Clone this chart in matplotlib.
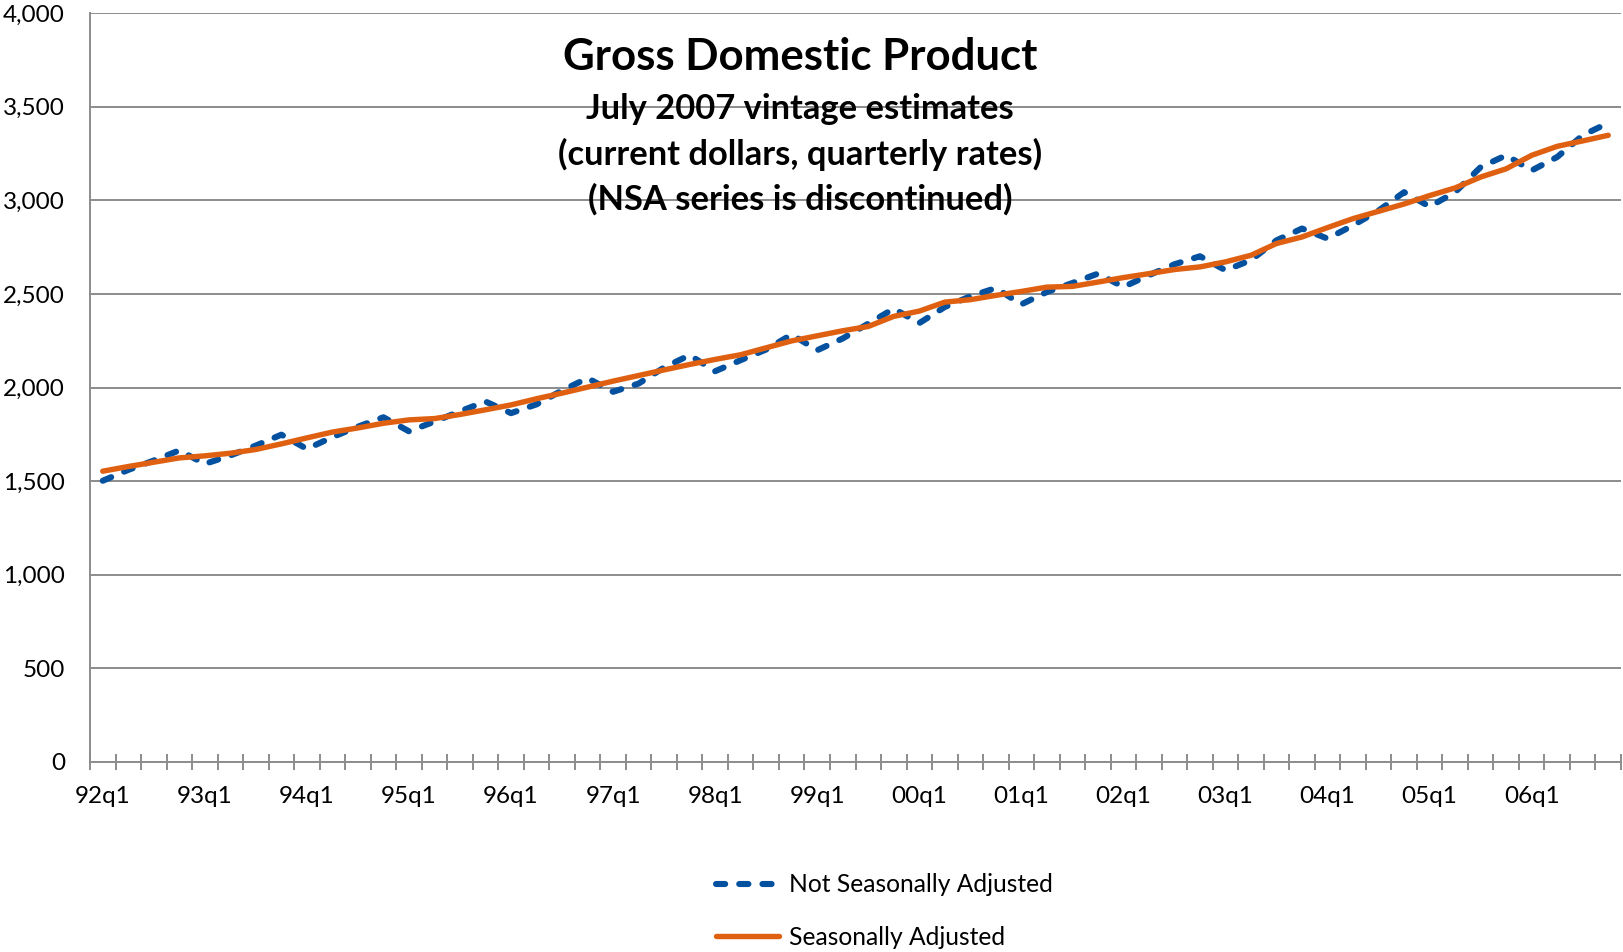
import numpy as np
import matplotlib.pyplot as plt
from matplotlib.ticker import FuncFormatter, MultipleLocator, FixedLocator

# quarters 92q1 .. 06q4
years = ["92", "93", "94", "95", "96", "97", "98", "99", "00", "01", "02", "03", "04", "05", "06"]
quarters = [y + "q" + str(q) for y in years for q in range(1, 5)]

# values (billions of current dollars, quarterly rates)
nsa = [1502, 1560, 1610, 1664, 1592, 1637, 1690, 1748, 1672, 1735,
       1791, 1841, 1766, 1818, 1873, 1925, 1863, 1910, 1984, 2050,
       1977, 2021, 2107, 2173, 2087, 2146, 2203, 2283, 2199, 2262,
       2341, 2421, 2344, 2430, 2487, 2531, 2444, 2510, 2558, 2608,
       2537, 2600, 2658, 2701, 2626, 2680, 2786, 2849, 2795, 2866,
       2945, 3043, 2966, 3043, 3177, 3240, 3159, 3231, 3347, 3413]
sa = [1553, 1578, 1601, 1624, 1635, 1649, 1669, 1699, 1731, 1762,
      1784, 1809, 1827, 1834, 1856, 1881, 1907, 1940, 1970, 2002,
      2034, 2064, 2094, 2123, 2150, 2175, 2212, 2249, 2276, 2303,
      2326, 2380, 2408, 2456, 2469, 2492, 2513, 2536, 2540, 2563,
      2587, 2608, 2630, 2644, 2671, 2706, 2769, 2804, 2854, 2902,
      2941, 2980, 3025, 3066, 3124, 3168, 3240, 3288, 3317, 3347]

plt.rcParams['font.family'] = ['Lato', 'DejaVu Sans']

fig = plt.figure(figsize=(16.23, 9.52), dpi=100)
ax = fig.add_axes([90 / 1623, 1 - 762 / 952, 1531 / 1623, 749 / 952])

x = np.arange(len(quarters))
ax.plot(x, nsa, color='#0451a0', lw=4.4, dashes=(1.5, 2.3),
        dash_capstyle='round', solid_capstyle='round', label='Not Seasonally Adjusted', zorder=3)
ax.plot(x, sa, color='#df6011', lw=3.9, solid_capstyle='round', label='Seasonally Adjusted', zorder=4)

ax.set_xlim(-0.5, len(quarters) - 0.5)
ax.set_ylim(0, 4000)
ax.yaxis.set_major_locator(MultipleLocator(500))
ax.yaxis.set_major_formatter(FuncFormatter(lambda v, p: f"{int(v):,}"))
ax.grid(axis='y', color='#8c8c8c', lw=1.4)
ax.set_axisbelow(True)

ax.xaxis.set_major_locator(FixedLocator(x[::4]))
ax.set_xticklabels(quarters[::4])
ax.xaxis.set_minor_locator(FixedLocator(np.arange(-0.5, len(quarters), 1)))
ax.tick_params(axis='x', which='major', length=0, pad=17, labelsize=17.5)
ax.tick_params(axis='x', which='minor', direction='inout', length=11, width=1.4, color='#8c8c8c')
ax.tick_params(axis='y', length=0, pad=18, labelsize=17.5)

for s in ['top', 'right']:
    ax.spines[s].set_visible(False)
for s in ['left', 'bottom']:
    ax.spines[s].set_color('#8c8c8c')
    ax.spines[s].set_linewidth(1.4)

fig.text(800 / 1623, 1 - 57 / 952, "Gross Domestic Product", ha='center', va='center',
         fontsize=31.5, fontweight='bold')
subs = ["July 2007 vintage estimates", "(current dollars, quarterly rates)", "(NSA series is discontinued)"]
for i, s in enumerate(subs):
    fig.text(800 / 1623, 1 - (109 + 45 * i) / 952, s, ha='center', va='center',
             fontsize=24.8, fontweight='bold')

fig.legend(loc='center left', bbox_to_anchor=(694 / 1623, 1 - 911 / 952), frameon=False,
           fontsize=17.7, handlelength=2.55, handletextpad=0.42, labelspacing=1.2)

fig.savefig('out.png', dpi=100)
